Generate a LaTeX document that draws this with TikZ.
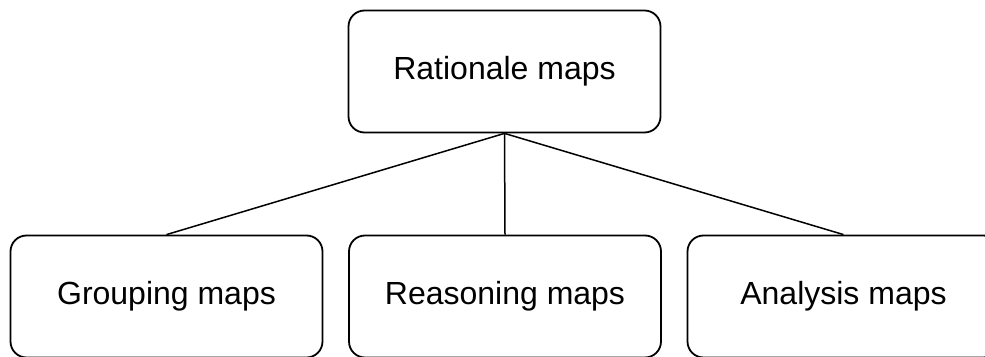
\documentclass[tikz,border=0pt]{standalone}
\usepackage{fontspec}
\setmainfont{Liberation Sans}
\begin{document}
\begin{tikzpicture}[x=1pt,y=1pt,
  mapbox/.style={draw=black, line width=1.8pt, rounded corners=16pt, minimum width=312pt, minimum height=122pt, inner sep=0pt, font=\fontsize{32}{38}\selectfont},
  link/.style={draw=black, line width=1.5pt}]
\clip (0,0) rectangle (985,356);
\useasboundingbox (0,0) rectangle (985,356);
\node[mapbox] (top) at (504.5,284.5) {Rationale maps};
\node[mapbox] (g) at (166.5,59.5) {Grouping maps};
\node[mapbox] (r) at (505,59.5) {Reasoning maps};
\node[mapbox] (a) at (843.5,59.5) {Analysis maps};
\draw[link] (top.south) -- (g.north);
\draw[link] (top.south) -- (r.north);
\draw[link] (top.south) -- (a.north);
\end{tikzpicture}
\end{document}
